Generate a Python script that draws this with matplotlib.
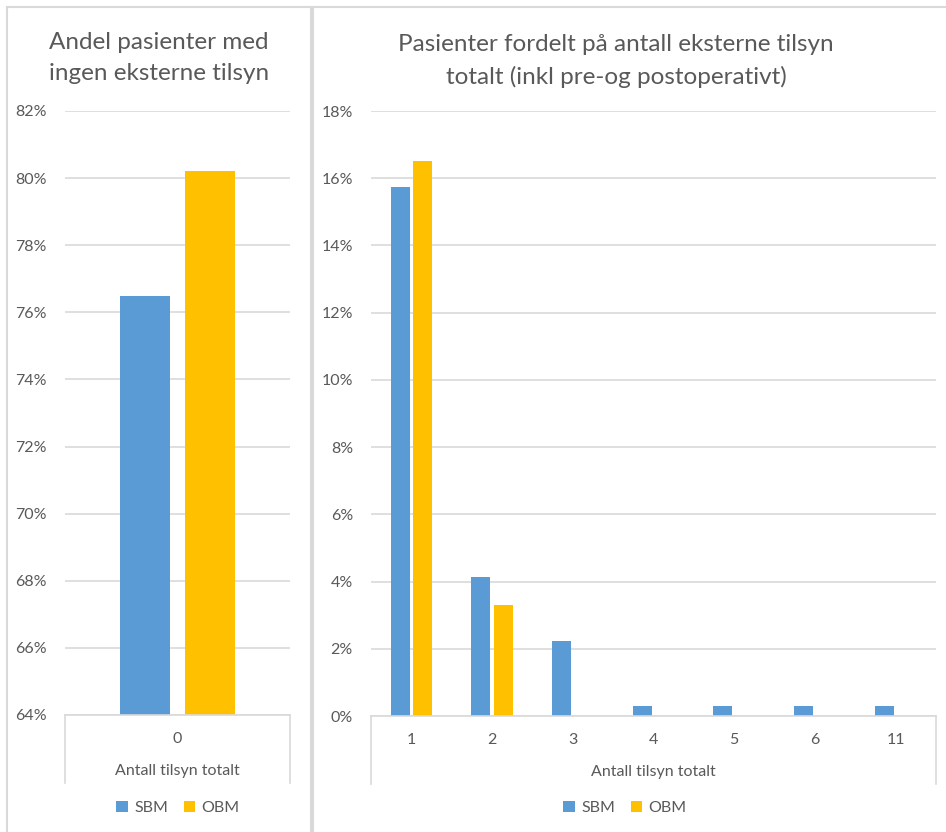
import matplotlib
matplotlib.use('Agg')
import numpy as np
import matplotlib.pyplot as plt
from matplotlib.patches import Rectangle

plt.rcParams['font.family'] = ['Lato', 'DejaVu Sans']

# data
left_cats = ['0']
left_sbm = [76.5]
left_obm = [80.2]

right_cats = ['1', '2', '3', '4', '5', '6', '11']
right_sbm = [15.75, 4.15, 2.23, 0.30, 0.30, 0.30, 0.30]
right_obm = [16.52, 3.30, 0, 0, 0, 0, 0]

BLUE = '#5b9bd5'
GOLD = '#ffc000'
GREY = '#d9d9d9'
TXT = '#595959'

W, H = 946, 832
fig = plt.figure(figsize=(W / 100, H / 100), dpi=100)

# chart area borders
fig.patches.append(Rectangle((7 / W, -0.05), (311 - 7) / W, 1.05 - 7 / H,
                             transform=fig.transFigure, fill=False,
                             edgecolor=GREY, lw=1.5))
fig.patches.append(Rectangle((313 / W, -0.05), 0.7, 1.05 - 7 / H,
                             transform=fig.transFigure, fill=False,
                             edgecolor=GREY, lw=1.5))

ax0 = fig.add_axes([65 / W, 1 - 715 / H, 225 / W, 604 / H])
ax1 = fig.add_axes([371 / W, 1 - 716 / H, 565 / W, 605 / H])


def style(ax, ticks, pad_y):
    for s in ['top', 'right', 'left']:
        ax.spines[s].set_visible(False)
    ax.spines['bottom'].set_color(GREY)
    ax.spines['bottom'].set_linewidth(1.2)
    ax.yaxis.grid(True, color=GREY, lw=1.2)
    ax.set_axisbelow(True)
    ax.tick_params(axis='both', length=0, colors=TXT, labelsize=11.5)
    ax.tick_params(axis='y', pad=pad_y)
    ax.tick_params(axis='x', pad=12)
    ax.set_yticks(ticks)
    ax.set_yticklabels(['%d%%' % t for t in ticks])
    # axis end lines going down
    for xx in [0, 1]:
        ax.plot([xx, xx], [0, -68 / 604], transform=ax.transAxes,
                color=GREY, lw=1.2, clip_on=False)
    ax.set_xlabel('Antall tilsyn totalt', color=TXT, fontsize=11.5, labelpad=13)


# left chart
x0 = np.arange(len(left_cats))
bw0 = 0.222
ax0.bar(x0 - 0.144, left_sbm, bw0, color=BLUE, label='SBM', zorder=2)
ax0.bar(x0 + 0.144, left_obm, bw0, color=GOLD, label='OBM', zorder=2)
ax0.set_xlim(-0.5, len(left_cats) - 0.5)
ax0.set_ylim(64, 82)
ax0.set_xticks(x0)
ax0.set_xticklabels(left_cats)
style(ax0, np.arange(64, 83, 2), 13)

# right chart
x1 = np.arange(len(right_cats))
bw1 = 0.235
ax1.bar(x1 - 0.14, right_sbm, bw1, color=BLUE, label='SBM', zorder=2)
ax1.bar(x1 + 0.14, right_obm, bw1, color=GOLD, label='OBM', zorder=2)
ax1.set_xlim(-0.5, len(right_cats) - 0.5)
ax1.set_ylim(0, 18)
ax1.set_xticks(x1)
ax1.set_xticklabels(right_cats)
style(ax1, np.arange(0, 19, 2), 13)

fig.text(159 / W, 1 - 58 / H, 'Andel pasienter med\ningen eksterne tilsyn',
         ha='center', va='center', color=TXT, fontsize=17.5, linespacing=1.55)
fig.text(616 / W, 1 - 61 / H,
         'Pasienter fordelt på antall eksterne tilsyn\ntotalt (inkl pre-og postoperativt)',
         ha='center', va='center', color=TXT, fontsize=17.5, linespacing=1.55)

for ax, cx in [(ax0, 178), (ax1, 625)]:
    h, l = ax.get_legend_handles_labels()
    leg = fig.legend(h, l, loc='center', bbox_to_anchor=(cx / W, 1 - 808 / H),
                     ncol=2, frameon=False, fontsize=11.5, handlelength=0.7,
                     handleheight=0.7, handletextpad=0.4, columnspacing=1.0)
    for t in leg.get_texts():
        t.set_color(TXT)

fig.savefig('out.png', dpi=100, facecolor='white')
